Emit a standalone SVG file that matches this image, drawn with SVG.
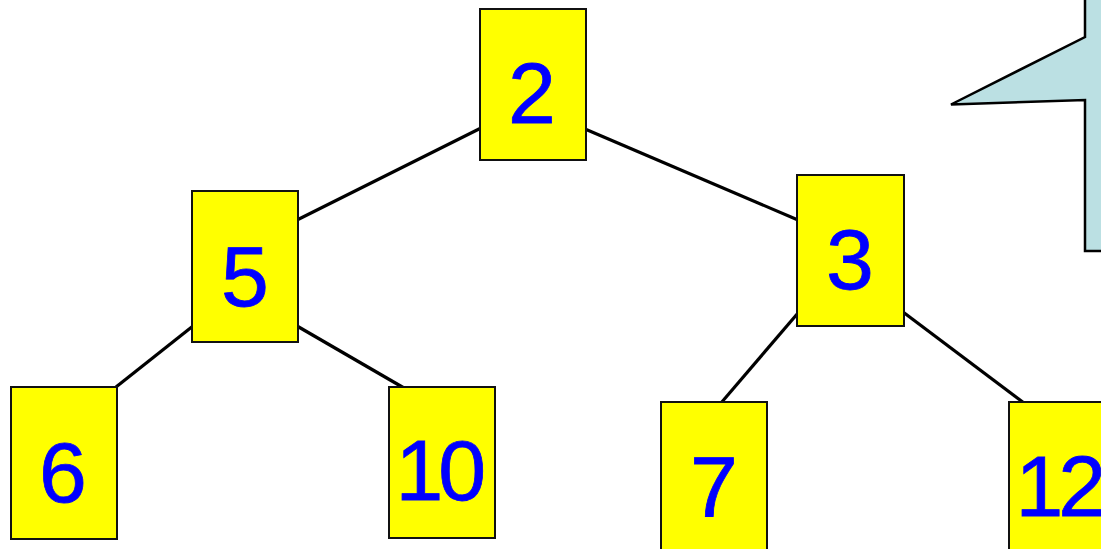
<svg xmlns="http://www.w3.org/2000/svg" width="1101" height="549" viewBox="0 0 1101 549">
<style>
.box{fill:#ffff00;stroke:#111;stroke-width:2}
.lbl{font-family:"Liberation Sans",Arial,sans-serif;font-size:86px;fill:#0000ff;stroke:#0000ff;stroke-width:0.8;text-anchor:middle}
.two{text-anchor:start;letter-spacing:-5px}
.edge{stroke:#000;stroke-width:3.2;fill:none}
</style>
<rect width="1101" height="549" fill="#fff"/>
<g id="callout">
<path d="M1110,-3 L1085,-3 L1085,37 L951,104.5 L1085,100 L1085,251 L1110,251 Z" fill="#bbe0e3" stroke="#000" stroke-width="2.5" stroke-linejoin="miter"/>
</g>
<g id="connectors">
<line class="edge" x1="481" y1="128" x2="297" y2="220"/>
<line class="edge" x1="585" y1="129" x2="798" y2="220"/>
<line class="edge" x1="193" y1="326" x2="116" y2="387"/>
<line class="edge" x1="297" y1="326" x2="404" y2="388"/>
<line class="edge" x1="798" y1="313" x2="721" y2="403"/>
<line class="edge" x1="903" y1="312" x2="1024" y2="403"/>
</g>
<g id="n2"><rect class="box" x="480" y="9" width="106" height="151"/><text class="lbl" x="532" y="123">2</text></g>
<g id="n5"><rect class="box" x="192" y="191" width="106" height="151"/><text class="lbl" x="245" y="306">5</text></g>
<g id="n3"><rect class="box" x="797" y="175" width="107" height="151"/><text class="lbl" x="850" y="289">3</text></g>
<g id="n6"><rect class="box" x="11" y="387" width="106" height="152"/><text class="lbl" x="63" y="502">6</text></g>
<g id="n10"><rect class="box" x="389" y="387" width="106" height="151"/><text class="lbl two" x="395.5" y="500">10</text></g>
<g id="n7"><rect class="box" x="661" y="402" width="106" height="160"/><text class="lbl" x="714" y="516">7</text></g>
<g id="n12"><rect class="box" x="1009" y="402" width="106" height="160"/><text class="lbl two" x="1015.5" y="516">12</text></g>
</svg>
